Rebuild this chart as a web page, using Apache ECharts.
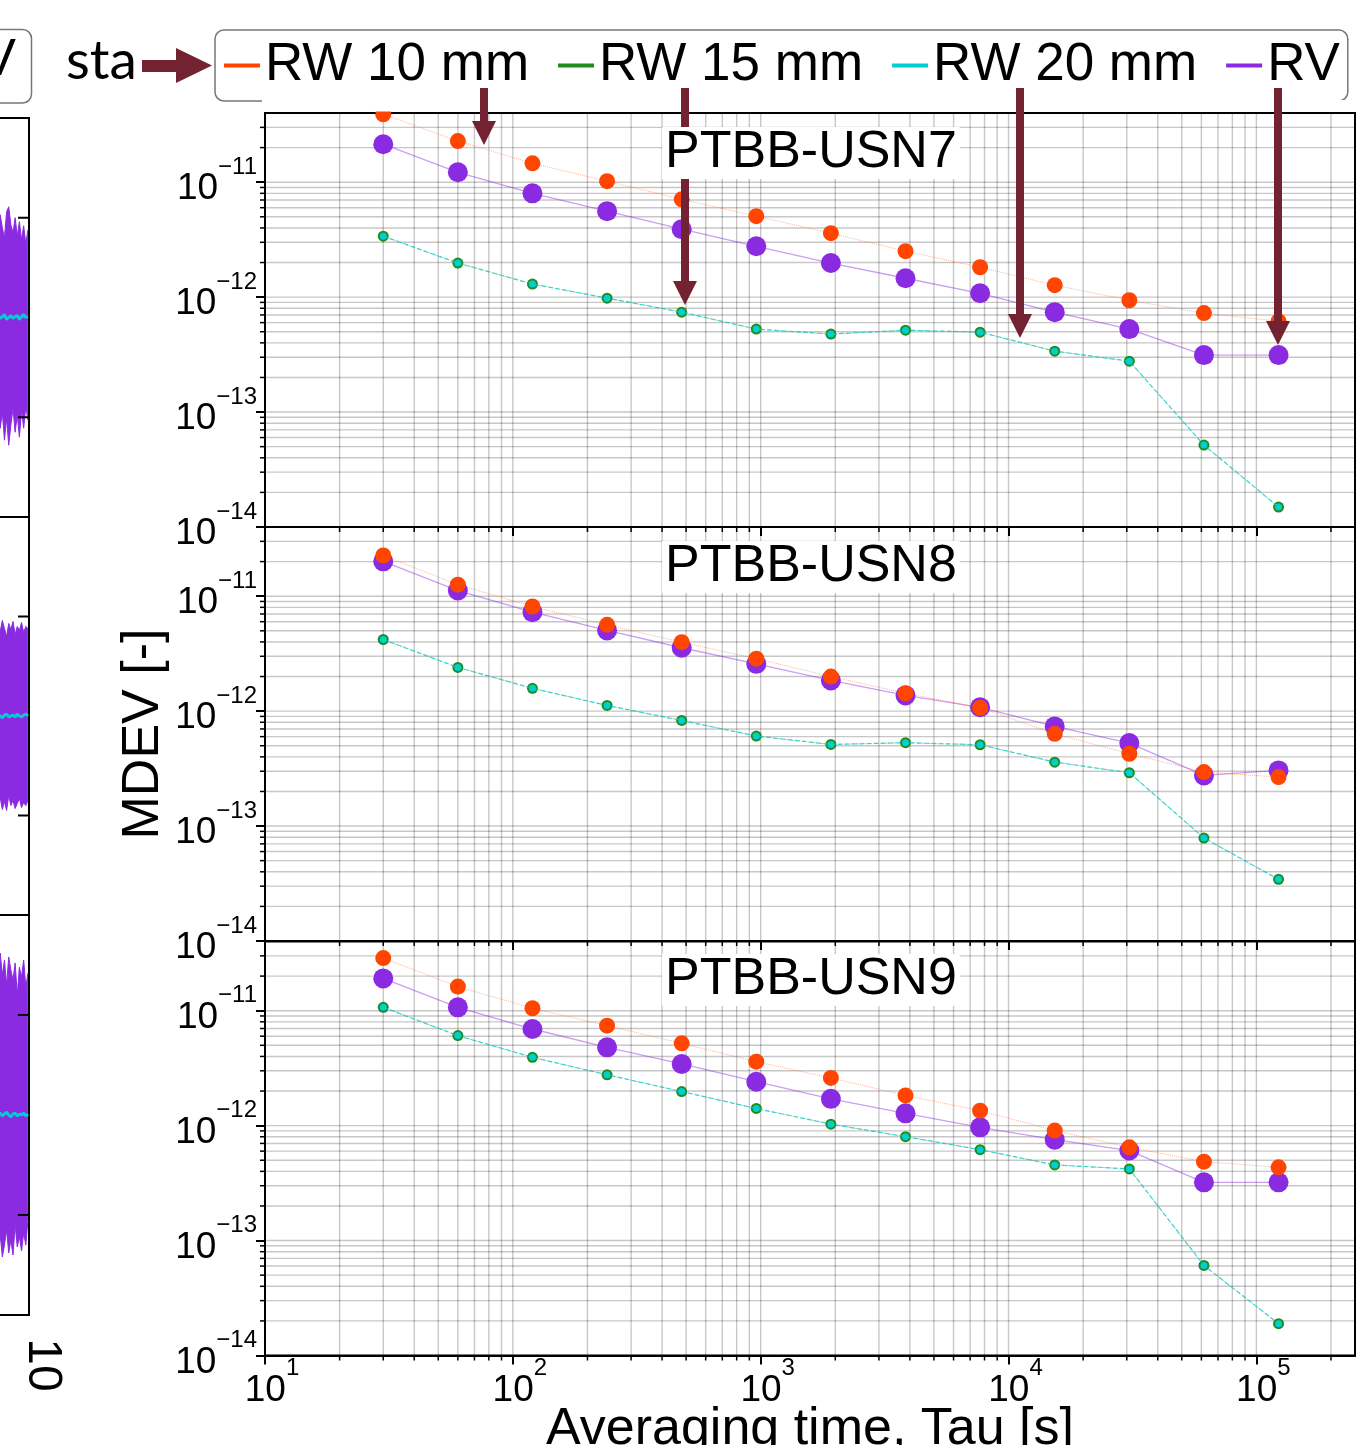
<!DOCTYPE html>
<html><head><meta charset="utf-8">
<script src="https://cdn.jsdelivr.net/npm/echarts@6/dist/echarts.min.js"></script>
<style>html,body{margin:0;padding:0;background:#fff}#c{width:1367px;height:1445px}</style>
</head><body><div id="c"></div><script>
// ---------------- DATA ----------------
const tau = [30, 60, 120, 240, 480, 960, 1920, 3840, 7680, 15360, 30720, 61440, 122880];
const panelNames = ['PTBB-USN7', 'PTBB-USN8', 'PTBB-USN9'];
const seriesNames = ['RW 10 mm', 'RW 15 mm', 'RW 20 mm', 'RV'];

const usn7_rw10 = [3.9e-11, 2.28e-11, 1.46e-11, 1.02e-11, 7.1e-12, 5.06e-12, 3.6e-12, 2.51e-12, 1.82e-12, 1.27e-12, 9.4e-13, 7.26e-13, 6.18e-13];
const usn7_rw15 = [3.39e-12, 1.98e-12, 1.3e-12, 9.8e-13, 7.4e-13, 5.27e-13, 4.77e-13, 5.16e-13, 4.96e-13, 3.39e-13, 2.77e-13, 5.16e-14, 1.49e-14];
const usn7_rw20 = [3.39e-12, 1.98e-12, 1.3e-12, 9.8e-13, 7.4e-13, 5.27e-13, 4.77e-13, 5.16e-13, 4.96e-13, 3.39e-13, 2.77e-13, 5.16e-14, 1.49e-14];
const usn7_rv   = [2.14e-11, 1.22e-11, 8.0e-12, 5.6e-12, 3.9e-12, 2.77e-12, 1.98e-12, 1.46e-12, 1.08e-12, 7.4e-13, 5.27e-13, 3.13e-13, 3.13e-13];

const usn8_rw10 = [2.26e-11, 1.26e-11, 8.13e-12, 5.64e-12, 3.98e-12, 2.86e-12, 2.0e-12, 1.43e-12, 1.07e-12, 6.35e-13, 4.26e-13, 2.95e-13, 2.67e-13];
const usn8_rw15 = [4.2e-12, 2.4e-12, 1.58e-12, 1.12e-12, 8.3e-13, 6.07e-13, 5.13e-13, 5.31e-13, 5.1e-13, 3.6e-13, 2.91e-13, 7.87e-14, 3.44e-14];
const usn8_rw20 = [4.2e-12, 2.4e-12, 1.58e-12, 1.12e-12, 8.3e-13, 6.07e-13, 5.13e-13, 5.31e-13, 5.1e-13, 3.6e-13, 2.91e-13, 7.87e-14, 3.44e-14];
const usn8_rv   = [2.01e-11, 1.12e-11, 7.26e-12, 5.04e-12, 3.56e-12, 2.58e-12, 1.85e-12, 1.37e-12, 1.08e-12, 7.36e-13, 5.27e-13, 2.76e-13, 3.05e-13];

const usn9_rw10 = [2.87e-11, 1.62e-11, 1.05e-11, 7.41e-12, 5.2e-12, 3.6e-12, 2.6e-12, 1.83e-12, 1.35e-12, 9.05e-13, 6.47e-13, 4.86e-13, 4.34e-13];
const usn9_rw15 = [1.07e-11, 6.07e-12, 3.93e-12, 2.77e-12, 1.98e-12, 1.41e-12, 1.03e-12, 8.02e-13, 6.18e-13, 4.55e-13, 4.2e-13, 6.07e-14, 1.89e-14];
const usn9_rw20 = [1.07e-11, 6.07e-12, 3.93e-12, 2.77e-12, 1.98e-12, 1.41e-12, 1.03e-12, 8.02e-13, 6.18e-13, 4.55e-13, 4.2e-13, 6.07e-14, 1.89e-14];
const usn9_rv   = [1.91e-11, 1.07e-11, 6.93e-12, 4.8e-12, 3.44e-12, 2.41e-12, 1.71e-12, 1.28e-12, 9.66e-13, 7.55e-13, 6.07e-13, 3.21e-13, 3.21e-13];

// axis ticks
const xMajorTicks = [10, 100, 1000, 10000, 100000];
const xTickExps = ['1', '2', '3', '4', '5'];
const yMajorTicks = [1e-14, 1e-13, 1e-12, 1e-11];
const yTickExps = ['\u221214', '\u221213', '\u221212', '\u221211'];
const minorMultipliers = [2, 3, 4, 5, 6, 7, 8, 9];
const X_MIN = 10, X_MAX = 2.5e5, Y_MIN = 1e-14, Y_MAX = 4e-11;

// left (cropped) neighbouring chart: envelope of dense purple noise and the cyan trace
const stripX = [0, 2, 4, 6, 8, 10, 12, 14, 16, 18, 20, 22, 24, 26, 28];
const strip1Upper = [0.86, 1.03, 0.9, 0.8, 1.06, 1.11, 0.93, 0.85, 1.0, 0.82, 0.96, 0.78, 0.92, 0.74, 0.88];
const strip1Lower = [-0.88, -1.11, -0.95, -1.23, -1.01, -1.28, -1.08, -0.91, -1.15, -0.98, -1.2, -0.93, -1.11, -0.89, -1.03];
const strip1Ref   = [0.02, -0.01, 0.01, 0.03, -0.02, 0.0, 0.02, -0.01, 0.01, 0.02, -0.02, 0.01, 0.03, 0.0, 0.01];
const strip2Upper = [0.92, 0.85, 0.96, 0.88, 0.8, 0.93, 0.87, 0.95, 0.82, 0.9, 0.86, 0.94, 0.84, 0.9, 0.88];
const strip2Lower = [-0.9, -0.82, -0.94, -0.86, -0.95, -0.8, -0.9, -0.85, -0.93, -0.88, -0.83, -0.92, -0.87, -0.9, -0.85];
const strip2Ref   = [0.01, 0.0, -0.02, 0.01, 0.02, -0.01, 0.0, 0.01, -0.01, 0.02, 0.0, -0.01, 0.01, 0.02, 0.0];
const strip3Upper = [1.5, 1.62, 1.4, 1.55, 1.3, 1.58, 1.45, 1.35, 1.52, 1.2, 1.48, 1.38, 1.55, 1.28, 1.42];
const strip3Lower = [-1.35, -1.2, -1.42, -1.3, -1.15, -1.38, -1.25, -1.4, -1.1, -1.32, -1.22, -1.36, -1.18, -1.3, -1.05];
const strip3Ref   = [0.0, 0.02, -0.01, 0.01, 0.03, 0.0, -0.02, 0.01, 0.02, -0.01, 0.01, 0.0, 0.02, -0.01, 0.01];
const stripTicks = [-1, 1];

// ---------------- STYLE / LAYOUT ----------------
const FONT = 'Liberation Sans, Arial, sans-serif';
const C_ORANGE = '#ff4500', C_GREEN = '#1f8c1f', C_CYAN = '#00ced1', C_PURPLE = '#8a2be2';
const GRID_COLOR = 'rgba(0,0,0,0.22)';
const ARROW = '#722231';
const PLOT_LEFT = 265, PLOT_WIDTH = 1090;
const PANEL_TOPS = [113, 527, 941.5], PANEL_H = 414;
const STRIP_TOPS = [118, 517, 915], STRIP_HS = [399, 398, 400];

const panelData = [
  [usn7_rw10, usn7_rw15, usn7_rw20, usn7_rv],
  [usn8_rw10, usn8_rw15, usn8_rw20, usn8_rv],
  [usn9_rw10, usn9_rw15, usn9_rw20, usn9_rv]
];
const stripData = [
  [strip1Upper, strip1Lower, strip1Ref],
  [strip2Upper, strip2Lower, strip2Ref],
  [strip3Upper, strip3Lower, strip3Ref]
];

function pairs(vals) { return tau.map((t, i) => [t, vals[i]]); }
function nearestIdx(list, v) {
  let best = 0, bd = Infinity;
  list.forEach((t, i) => { const d = Math.abs(Math.log10(t) - Math.log10(v)); if (d < bd) { bd = d; best = i; } });
  return best;
}

const decorItems = [];
xMajorTicks.forEach(m => minorMultipliers.forEach(k => { const v = m * k; if (v < X_MAX) decorItems.push([v, Y_MIN, 0]); }));
xMajorTicks.forEach(v => decorItems.push([v, Y_MIN, 1]));
yMajorTicks.forEach(m => minorMultipliers.forEach(k => { const v = m * k; if (v < Y_MAX * 0.99) decorItems.push([X_MIN, v, 2]); }));
yMajorTicks.forEach(v => decorItems.push([X_MIN, v, 3]));

function renderDecor(params, api) {
  const cs = params.coordSys;
  const kind = api.value(2);
  const ch = [];
  const gs = { stroke: GRID_COLOR, lineWidth: 1.4 };
  if (kind < 2) {
    const px = api.coord([api.value(0), Y_MIN])[0];
    ch.push({ type: 'line', shape: { x1: px, y1: cs.y, x2: px, y2: cs.y + cs.height }, style: gs });
    if (kind === 0) ch.push({ type: 'line', shape: { x1: px, y1: cs.y + cs.height, x2: px, y2: cs.y + cs.height + 5 }, style: { stroke: '#000', lineWidth: 1.5 } });
  } else {
    const py = api.coord([X_MIN, api.value(1)])[1];
    ch.push({ type: 'line', shape: { x1: cs.x, y1: py, x2: cs.x + cs.width, y2: py }, style: gs });
    if (kind === 2) ch.push({ type: 'line', shape: { x1: cs.x - 5, y1: py, x2: cs.x, y2: py }, style: { stroke: '#000', lineWidth: 1.5 } });
  }
  return { type: 'group', children: ch };
}

// inward ticks on the right spine of the cropped left panels
function renderStripTick(params, api) {
  const cs = params.coordSys;
  const py = api.coord([0, api.value(1)])[1];
  const xr = cs.x + cs.width;
  return { type: 'line', shape: { x1: xr - 11, y1: py, x2: xr, y2: py }, style: { stroke: '#000', lineWidth: 2 } };
}

const grids = [], xAxes = [], yAxes = [], series = [], titles = [];
const titleTops = [127, 541, 954];

PANEL_TOPS.forEach((top, p) => {
  grids.push({ left: PLOT_LEFT, width: PLOT_WIDTH, top: top, height: PANEL_H, show: true, borderColor: '#000', borderWidth: 2, containLabel: false, outerBoundsMode: 'none' });
  xAxes.push({
    type: 'log', logBase: 10, gridIndex: p, min: X_MIN, max: X_MAX,
    name: p === 2 ? 'Averaging time, Tau [s]' : '', nameLocation: 'middle', nameGap: 48, nameMoveOverlap: false,
    nameTextStyle: { fontSize: 52, color: '#000', fontFamily: FONT, verticalAlign: 'top' },
    axisLine: { show: true, lineStyle: { color: '#000', width: 2 } },
    axisTick: { show: true, customValues: xMajorTicks, length: 9, lineStyle: { color: '#000', width: 2 } },
    minorTick: { show: false }, splitLine: { show: false }, minorSplitLine: { show: false },
    axisLabel: {
      show: p === 2, customValues: xMajorTicks, margin: 9, verticalAlign: 'top', align: 'center',
      formatter: v => '{b|10}{s|' + xTickExps[nearestIdx(xMajorTicks, v)] + '}',
      rich: {
        b: { fontSize: 37, lineHeight: 38, color: '#000', fontFamily: FONT, padding: [14, 0, 0, 14] },
        s: { fontSize: 24, lineHeight: 22, color: '#000', fontFamily: FONT, padding: [0, 0, 30, 0] }
      }
    }
  });
  yAxes.push({
    type: 'log', logBase: 10, gridIndex: p, min: Y_MIN, max: Y_MAX,
    name: p === 1 ? 'MDEV [-]' : '', nameLocation: 'middle', nameGap: 95, nameMoveOverlap: false,
    nameTextStyle: { fontSize: 52, color: '#000', fontFamily: FONT },
    axisLine: { show: true, lineStyle: { color: '#000', width: 2 } },
    axisTick: { show: true, customValues: yMajorTicks, length: 9, lineStyle: { color: '#000', width: 2 } },
    minorTick: { show: false }, splitLine: { show: false }, minorSplitLine: { show: false },
    axisLabel: {
      show: true, customValues: yMajorTicks, margin: 8,
      formatter: v => '{b|10}{s|' + yTickExps[nearestIdx(yMajorTicks, v)] + '}',
      rich: {
        b: { fontSize: 37, lineHeight: 38, color: '#000', fontFamily: FONT, padding: [14, 0, 0, 0] },
        s: { fontSize: 24, lineHeight: 22, color: '#000', fontFamily: FONT, padding: [0, 0, 30, 0] }
      }
    }
  });
  titles.push({
    text: panelNames[p], left: 662, top: titleTops[p], padding: [0, 3], z: 9,
    backgroundColor: '#fff',
    textStyle: { fontSize: 52, fontWeight: 'normal', color: '#000', fontFamily: FONT }
  });
  series.push({ name: 'decor' + p, type: 'custom', xAxisIndex: p, yAxisIndex: p, z: 1, silent: true, clip: false, renderItem: renderDecor, data: decorItems });
  const [rw10, rw15, rw20, rv] = panelData[p];
  series.push({
    name: 'RV', type: 'line', xAxisIndex: p, yAxisIndex: p, data: pairs(rv), color: C_PURPLE,
    symbol: 'circle', symbolSize: 20, itemStyle: { color: C_PURPLE },
    lineStyle: { color: 'rgba(138,43,226,0.45)', width: 1.3 }, z: 3
  });
  series.push({
    name: 'RW 10 mm', type: 'line', xAxisIndex: p, yAxisIndex: p, data: pairs(rw10), color: C_ORANGE,
    symbol: 'circle', symbolSize: 16, itemStyle: { color: C_ORANGE },
    lineStyle: { color: 'rgba(255,69,0,0.4)', width: 1, type: 'dotted' }, z: 4
  });
  series.push({
    name: 'RW 15 mm', type: 'line', xAxisIndex: p, yAxisIndex: p, data: pairs(rw15), color: C_GREEN,
    symbol: 'circle', symbolSize: 11, itemStyle: { color: C_GREEN },
    lineStyle: { color: 'rgba(31,140,31,0.3)', width: 1, type: 'dashed' }, z: 5
  });
  series.push({
    name: 'RW 20 mm', type: 'line', xAxisIndex: p, yAxisIndex: p, data: pairs(rw20), color: C_CYAN,
    symbol: 'circle', symbolSize: 7, itemStyle: { color: C_CYAN },
    lineStyle: { color: 'rgba(0,206,209,0.75)', width: 1.2, type: 'dashed' }, z: 6
  });
});

// left cropped neighbour panels
STRIP_TOPS.forEach((top, s) => {
  const gi = 3 + s;
  grids.push({ left: -3, width: 32, top: top, height: STRIP_HS[s], show: true, borderColor: '#000', borderWidth: 2, outerBoundsMode: 'none' });
  xAxes.push({ type: 'value', gridIndex: gi, min: -1, max: 29, show: false });
  yAxes.push({
    type: 'value', gridIndex: gi, min: -2, max: 2, position: 'right',
    axisLine: { show: true, lineStyle: { color: '#000', width: 2 } },
    axisTick: { show: false }, axisLabel: { show: false }, splitLine: { show: false }
  });
  const [up, lo, ref] = stripData[s];
  const mk = vals => stripX.map((x, i) => [x, vals[i]]);
  series.push({ name: 'strip-up' + s, type: 'line', xAxisIndex: gi, yAxisIndex: gi, data: mk(up), symbol: 'none', silent: true,
    lineStyle: { color: C_PURPLE, width: 1 }, areaStyle: { color: C_PURPLE, opacity: 1, origin: 0 }, z: 2 });
  series.push({ name: 'strip-lo' + s, type: 'line', xAxisIndex: gi, yAxisIndex: gi, data: mk(lo), symbol: 'none', silent: true,
    lineStyle: { color: C_PURPLE, width: 1 }, areaStyle: { color: C_PURPLE, opacity: 1, origin: 0 }, z: 2 });
  series.push({ name: 'strip-ref' + s, type: 'line', xAxisIndex: gi, yAxisIndex: gi, data: mk(ref), symbol: 'none', silent: true,
    lineStyle: { color: C_CYAN, width: 3 }, z: 3 });
  series.push({ name: 'strip-ticks' + s, type: 'custom', xAxisIndex: gi, yAxisIndex: gi, silent: true, clip: false, z: 4,
    renderItem: renderStripTick, data: stripTicks.map(v => [0, v]) });
});

function arrowDown(x, y0, tip) {
  return { type: 'polygon', z: 8, silent: true,
    shape: { points: [[x - 4, y0], [x + 4, y0], [x + 4, tip - 24], [x + 12, tip - 24], [x, tip], [x - 12, tip - 24], [x - 4, tip - 24]] },
    style: { fill: ARROW } };
}

const option = {
  animation: false,
  backgroundColor: '#fff',
  textStyle: { fontFamily: FONT },
  title: titles,
  legend: {
    data: seriesNames, left: 215, top: 30, orient: 'horizontal',
    padding: [9, 8, 9, 9], itemGap: 29, itemWidth: 36, itemHeight: 4, icon: 'rect',
    borderColor: '#777', borderWidth: 1.5, borderRadius: 9, backgroundColor: '#fff',
    textStyle: { fontSize: 53, color: '#000', fontFamily: FONT }
  },
  grid: grids, xAxis: xAxes, yAxis: yAxes, series: series,
  graphic: { elements: [
    { type: 'rect', z: 7, silent: true, shape: { x: 262, y: 100, width: 1100, height: 11.6 }, style: { fill: '#fff' } },
    { type: 'rect', z: 4, silent: true, shape: { x: -60, y: 29.5, width: 91.5, height: 73.5, r: 9 }, style: { fill: '#fff', stroke: '#777', lineWidth: 1.5 } },
    { type: 'text', z: 5, silent: true, x: 16, y: 61, style: { text: 'RV', font: '52px ' + FONT, align: 'right', verticalAlign: 'middle', fill: '#000' } },
    { type: 'text', z: 5, silent: true, x: 66, y: 61, style: { text: 'sta', font: '55px Lato, Open Sans, sans-serif', align: 'left', verticalAlign: 'middle', fill: '#000' } },
    { type: 'polygon', z: 8, silent: true, shape: { points: [[142, 60], [176, 60], [176, 48], [212, 65.5], [176, 83], [176, 72], [142, 72]] }, style: { fill: ARROW } },
    arrowDown(484, 88, 145),
    arrowDown(685, 88, 305),
    arrowDown(1020, 88, 338),
    arrowDown(1278, 88, 345),
    { type: 'text', z: 5, silent: true, x: 42, y: 1365, rotation: -Math.PI / 2, style: { text: '10', font: '48px ' + FONT, align: 'center', verticalAlign: 'middle', fill: '#000' } }
  ] }
};

const chart = echarts.init(document.getElementById('c'), null, { renderer: 'canvas', width: 1367, height: 1445 });
chart.setOption(option);
</script></body></html>
